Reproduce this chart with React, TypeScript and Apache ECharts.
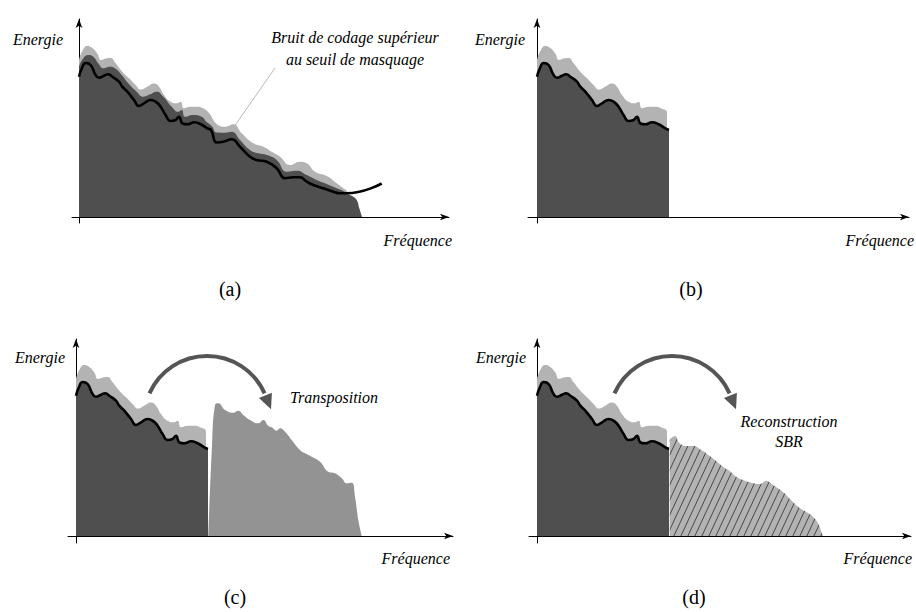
import React, { useEffect, useRef } from "react";
import * as echarts from "echarts";

// Envelope of the original spectrum (light grey), low band and its continuation
const spectrumLow: number[][] = [[0,157],[3.3,166],[8.3,171],[13.3,169],[18.3,163.5],[22,157],[26.6,158.5],[31.6,159],[36.6,153.7],[43.3,145.3],[50,138.7],[56.6,132],[62,127.5],[68.3,130.3],[75,133.5],[80,130.3],[85,122],[91.6,115.3],[98.3,113.7],[101.6,115.3],[105,108.7],[111.6,110.3],[118.3,110.3],[124,108.7],[130,104]];
const spectrumHigh: number[][] = [[137.7,93],[146,90.3],[154.3,92.7],[162.7,83.7],[174.3,73.7],[184.3,70.3],[192.7,65.3],[201,60.3],[211,52],[221,55.3],[227.7,53.7],[236,45.3],[247.7,41],[257.7,33.7],[264.3,28.7],[268,25]];
// Coding noise envelope in (a)
const noiseTop: number[][] = [[0,150.3],[4.3,158.7],[9.3,162],[14.3,160.3],[19.3,153.7],[24.3,148.7],[31,150.3],[36,148.7],[42.7,142],[49.3,133.7],[57.7,125.3],[64.3,120.3],[71,122.7],[77.7,125.3],[84.3,120.3],[92.7,110.3],[99.3,105.3],[102.7,107],[106,100.3],[114.3,102],[122.7,100.3],[127.7,95],[132.7,91],[137.7,84.5],[146,84.3],[152.7,85.3],[161,77],[171,67],[179.3,63.7],[187.7,62],[197.7,57],[207.7,45.3],[217.7,46.3],[227.7,42],[237.7,37],[247.7,33],[257.7,28.7],[264.3,26],[270,22.5],[274.3,20.3],[277.7,17],[280.3,8.7],[283,0]];
// Masking threshold (black curve)
const maskLow: number[][] = [[0,140.3],[3,149],[6.6,154],[11.6,152],[16.6,142],[20,139.3],[25,141.3],[29.3,142.7],[33.3,140.3],[40,135.3],[43.3,130.3],[48.3,125.3],[55,117],[60,111],[65,113.7],[71.6,117],[76.6,115.3],[81.6,110.3],[86.6,102],[91.6,96],[96.6,97],[100,100.3],[103.3,93.7],[108.3,92.7],[115,94.7],[121.6,92.7],[128.3,88.7],[132,87]];
const maskHigh: number[][] = [[137.7,74.5],[144.3,75.3],[152.7,77.7],[161,70.3],[171,60.3],[177.7,57],[187.7,55.3],[197.7,48.7],[206,38.7],[214.3,39.7],[221,39.7],[227.7,35.3],[234.3,32],[244.3,28.7],[254.3,25.3],[261,23.7],[267.7,23.7],[302.7,33.5]];
// Transposed high band (c)
const transposed: number[][] = [[132.3,0],[136,90],[139,131],[142.3,132.7],[149,126],[157.3,123.3],[162.3,125.3],[167.3,121],[174,116],[182.3,112.7],[187.3,116],[192.3,110],[195.7,108.7],[200.7,105.3],[204,107.7],[209,104.3],[215.7,96],[224,86],[229,82.7],[235.7,79.3],[244,74.3],[252.3,64.3],[259,62.7],[265.7,57.7],[270.7,52.7],[275.7,53.3],[279,39.3],[282.3,16],[285.7,0]];
// SBR reconstructed band (d)
const reconstructed: number[][] = [[132.7,96],[137.7,100],[142.7,92.7],[149.3,90],[156,90],[164.3,86],[172.7,80],[179.3,75],[186,69.3],[192.7,65],[199.3,59.3],[206,56],[214.3,53.3],[222.7,52],[229.3,55],[236,51],[246,44],[256,34],[262.7,28],[269.3,24],[276,19.3],[281,12.7],[284.5,4],[286,0]];

const panelLabels = ["(a)", "(b)", "(c)", "(d)"];

const LIGHT = "#b3b3b3";
const DARK = "#4f4f4f";
const MID = "#939393";
const ARROW = "#555555";
const SERIF = "Times New Roman";

const withDrop = (d: number[][]) => [...d, [d[d.length - 1][0], 0]];

function hatchCanvas() {
  const c = document.createElement("canvas");
  c.width = 7;
  c.height = 15;
  const g = c.getContext("2d")!;
  g.fillStyle = LIGHT;
  g.fillRect(0, 0, 7, 15);
  g.strokeStyle = "#1a1a1a";
  g.lineWidth = 0.7;
  for (const off of [-7, 0, 7]) {
    g.beginPath();
    g.moveTo(off, 15);
    g.lineTo(off + 7, 0);
    g.stroke();
  }
  return c;
}

function curvedArrow(cx: number, cy: number, r: number, a0: number, a1: number) {
  const rad = Math.PI / 180;
  const s = a0 * rad, e = a1 * rad;
  const ea = (a1 + 2) * rad;
  const bx = cx + r * Math.cos(ea), by = cy + r * Math.sin(ea);
  const dx = -Math.sin(ea), dy = Math.cos(ea);
  const L = 15, W = 7;
  const tip = [bx + dx * L, by + dy * L];
  const p1 = [bx + dy * W, by - dx * W];
  const p2 = [bx - dy * W, by + dx * W];
  return [
    { type: "arc", shape: { cx, cy, r, startAngle: s, endAngle: e, clockwise: true }, style: { stroke: ARROW, lineWidth: 4, fill: "none" } },
    { type: "polygon", shape: { points: [tip, p1, p2] }, style: { fill: ARROW } },
  ];
}

const italic = (text: string, x: number, y: number, align = "center") => ({
  type: "text",
  style: { text, x, y, textAlign: align, textVerticalAlign: "middle", textFont: `italic 16px ${SERIF}`, font: `italic 16px ${SERIF}`, fill: "#000" },
});
const roman = (text: string, x: number, y: number) => ({
  type: "text",
  style: { text, x, y, textAlign: "center", textVerticalAlign: "middle", textFont: `20px ${SERIF}`, font: `20px ${SERIF}`, fill: "#000" },
});

export default function App() {
  const ref = useRef<HTMLDivElement>(null);
  useEffect(() => {
    if (!ref.current) return;
    const chart = echarts.init(ref.current, undefined, { renderer: "svg" });
    const panels = [
      { left: 72, top: 19, xMin: -7, xMax: 370, yMin: -6, yMax: 198 },
      { left: 528, top: 19, xMin: -9, xMax: 372, yMin: -6, yMax: 198 },
      { left: 68, top: 339, xMin: -8, xMax: 377, yMin: -7, yMax: 197 },
      { left: 529, top: 339, xMin: -8, xMax: 374, yMin: -7, yMax: 197 },
    ];
    const axisLine = { onZero: true, symbol: ["none", "arrow"], symbolSize: [5, 9], lineStyle: { color: "#000", width: 1 } };
    const grid = panels.map((p) => ({ left: p.left, top: p.top, width: p.xMax - p.xMin, height: p.yMax - p.yMin, outerBoundsMode: "none", containLabel: false }));
    const xAxis = panels.map((p, i) => ({ type: "value", gridIndex: i, min: p.xMin, max: p.xMax, axisLine, axisTick: { show: false }, axisLabel: { show: false }, splitLine: { show: false } }));
    const yAxis = panels.map((p, i) => ({ type: "value", gridIndex: i, min: p.yMin, max: p.yMax, axisLine, axisTick: { show: false }, axisLabel: { show: false }, splitLine: { show: false } }));

    const area = (i: number, data: number[][], color: any, z: number) => ({
      type: "line", xAxisIndex: i, yAxisIndex: i, data, symbol: "none", smooth: 0.5,
      lineStyle: { width: 0 }, areaStyle: { color, opacity: 1 }, silent: true, z,
    });
    const curve = (i: number, data: number[][]) => ({
      type: "line", xAxisIndex: i, yAxisIndex: i, data, symbol: "none", smooth: 0.5,
      lineStyle: { color: "#000", width: 2.6 }, silent: true, z: 5,
    });
    const hatch = { image: hatchCanvas(), repeat: "repeat" };

    const series: any[] = [
      // (a)
      area(0, withDrop([...spectrumLow, ...spectrumHigh]), LIGHT, 2),
      area(0, noiseTop, DARK, 3),
      curve(0, [...maskLow, ...maskHigh]),
      // (b)
      area(1, withDrop(spectrumLow), LIGHT, 2),
      area(1, withDrop(maskLow), DARK, 3),
      curve(1, maskLow),
      // (c)
      area(2, withDrop(spectrumLow), LIGHT, 2),
      area(2, transposed, MID, 3),
      area(2, withDrop(maskLow), DARK, 3),
      curve(2, maskLow),
      // (d)
      area(3, withDrop(spectrumLow), LIGHT, 2),
      area(3, reconstructed, hatch, 3),
      area(3, withDrop(maskLow), DARK, 3),
      curve(3, maskLow),
    ];

    const graphic: any[] = [
      italic("Energie", 63, 39, "right"),
      italic("Energie", 525, 39, "right"),
      italic("Energie", 65, 357, "right"),
      italic("Energie", 526, 357, "right"),
      italic("Fréquence", 452, 240, "right"),
      italic("Fréquence", 914, 240, "right"),
      italic("Fréquence", 450, 558, "right"),
      italic("Fréquence", 912, 558, "right"),
      italic("Bruit de codage supérieur", 355, 37),
      italic("au seuil de masquage", 355, 59),
      { type: "line", shape: { x1: 275, y1: 68, x2: 229, y2: 134 }, style: { stroke: "#8a8a8a", lineWidth: 0.6 } },
      italic("Transposition", 290, 397, "left"),
      italic("Reconstruction", 789, 421),
      italic("SBR", 789, 441),
      ...curvedArrow(207, 419, 63, -156, -24),
      ...curvedArrow(672, 419, 63, -156, -24),
      roman(panelLabels[0], 230, 289),
      roman(panelLabels[1], 691, 289),
      roman(panelLabels[2], 235, 597),
      roman(panelLabels[3], 694, 597),
    ];

    chart.setOption({
      animation: false,
      backgroundColor: "#fff",
      textStyle: { fontFamily: SERIF },
      grid, xAxis, yAxis, series, graphic,
    });
    return () => chart.dispose();
  }, []);
  return <div ref={ref} style={{ position: "fixed", left: 0, top: 0, width: 916, height: 612, fontFamily: "Times New Roman" }} />;
}
